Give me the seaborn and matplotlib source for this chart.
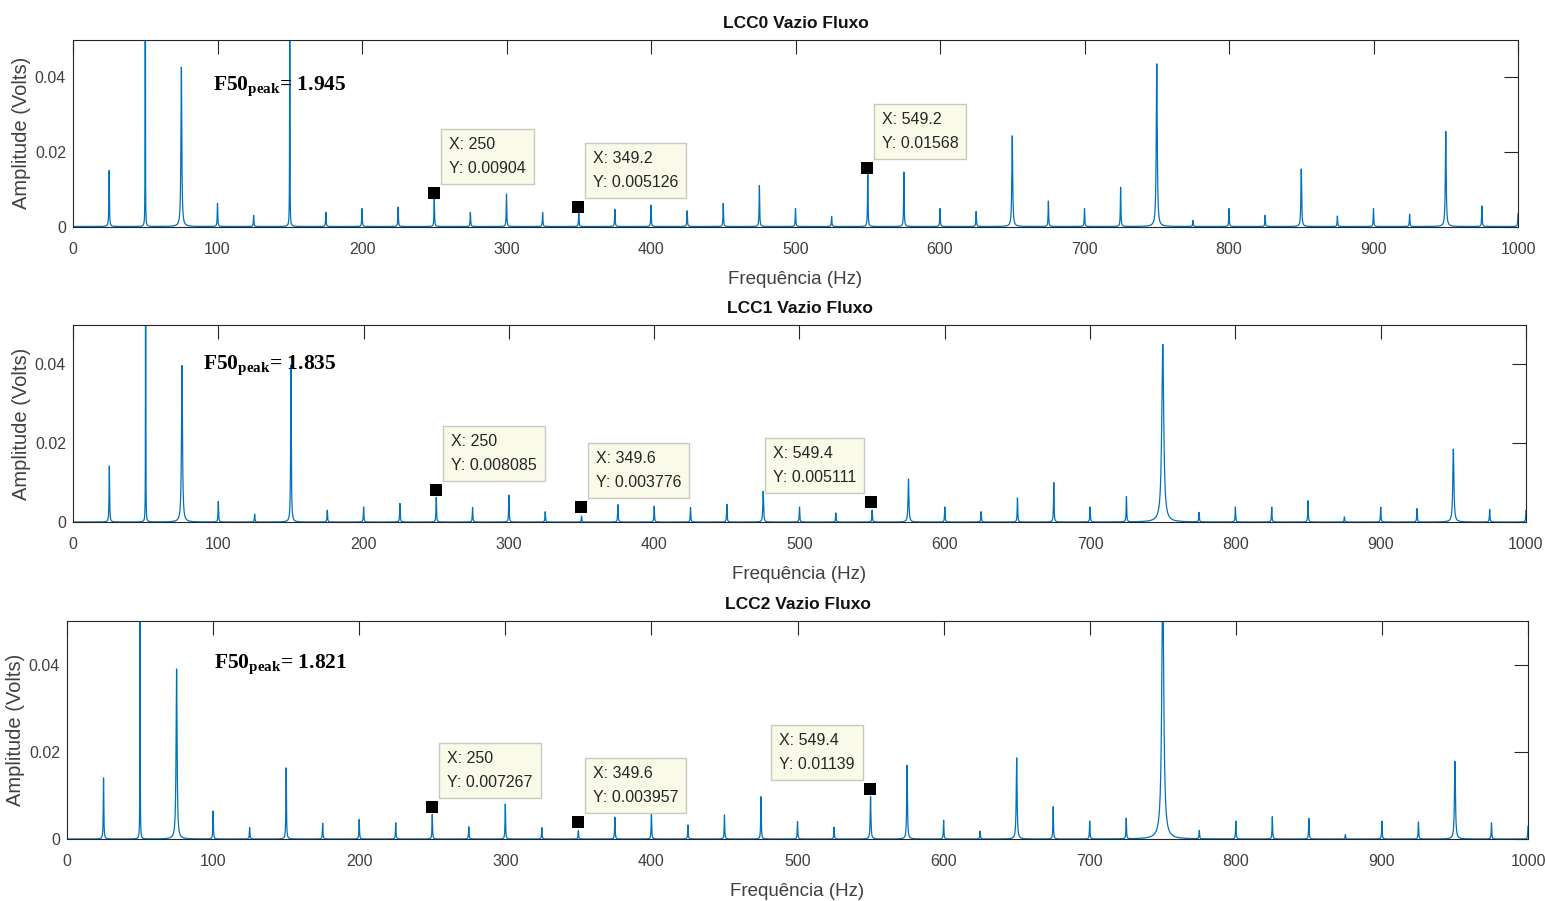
import numpy as np
import pandas as pd
import matplotlib
matplotlib.use("Agg")
import matplotlib.pyplot as plt
from matplotlib.ticker import FuncFormatter
import seaborn as sns

# ---------------- data ----------------
titles = ["LCC0 Vazio Fluxo", "LCC1 Vazio Fluxo", "LCC2 Vazio Fluxo"]
f50_peak = ["1.945", "1.835", "1.821"]

harmonic_freqs = [25, 50, 75, 100, 125, 150, 175, 200, 225, 250,
                  275, 300, 325, 350, 375, 400, 425, 450, 475, 500,
                  525, 550, 575, 600, 625, 650, 675, 700, 725, 750,
                  775, 800, 825, 850, 875, 900, 925, 950, 975, 1000]

amp_lcc0 = [0.0150, 1.945, 0.0427, 0.0062, 0.0030, 0.0650, 0.0038, 0.0048, 0.0052, 0.0075,
            0.0038, 0.0087, 0.0037, 0.0035, 0.0046, 0.0057, 0.0042, 0.0062, 0.0110, 0.0048,
            0.0027, 0.0140, 0.0146, 0.0048, 0.0040, 0.0243, 0.0068, 0.0048, 0.0105, 0.0436,
            0.0016, 0.0048, 0.0030, 0.0154, 0.0028, 0.0048, 0.0033, 0.0255, 0.0055, 0.0035]

amp_lcc1 = [0.0142, 1.835, 0.0397, 0.0052, 0.0020, 0.0398, 0.0030, 0.0038, 0.0047, 0.0062,
            0.0037, 0.0068, 0.0026, 0.0015, 0.0044, 0.0040, 0.0037, 0.0045, 0.0078, 0.0038,
            0.0023, 0.0030, 0.0109, 0.0038, 0.0026, 0.0061, 0.0100, 0.0038, 0.0064, 0.0451,
            0.0024, 0.0038, 0.0038, 0.0054, 0.0013, 0.0038, 0.0034, 0.0185, 0.0032, 0.0030]

amp_lcc2 = [0.0140, 1.821, 0.0390, 0.0064, 0.0026, 0.0163, 0.0036, 0.0045, 0.0037, 0.0056,
            0.0028, 0.0080, 0.0026, 0.0019, 0.0050, 0.0063, 0.0032, 0.0055, 0.0097, 0.0040,
            0.0027, 0.0097, 0.0169, 0.0043, 0.0018, 0.0186, 0.0074, 0.0041, 0.0047, 0.0600,
            0.0019, 0.0041, 0.0051, 0.0047, 0.0010, 0.0041, 0.0039, 0.0178, 0.0037, 0.0030]

# peak half-widths (Hz): default plus the peaks that show a wider base
default_width = 0.22
widths_lcc0 = {50: 0.02, 75: 0.35, 150: 0.12, 650: 0.35, 750: 0.4, 850: 0.3, 950: 0.35}
widths_lcc1 = {50: 0.02, 75: 0.4, 150: 0.25, 475: 0.3, 575: 0.35, 750: 0.8, 950: 0.45}
widths_lcc2 = {50: 0.02, 75: 0.4, 550: 0.3, 575: 0.3, 650: 0.35, 750: 0.8, 950: 0.4}

amplitudes = [amp_lcc0, amp_lcc1, amp_lcc2]
widths = [widths_lcc0, widths_lcc1, widths_lcc2]

# data tips (X, Y) per panel
tips_x = [[250, 349.2, 549.2], [250, 349.6, 549.4], [250, 349.6, 549.4]]
tips_y = [[0.00904, 0.005126, 0.01568], [0.008085, 0.003776, 0.005111], [0.007267, 0.003957, 0.01139]]

# ---------------- layout / style ----------------
tip_side = [["r", "r", "r"], ["r", "r", "l"], ["r", "r", "l"]]
axes_rects = [
    [0.04722, 0.74861, 0.93467, 0.20699],
    [0.04722, 0.42064, 0.93984, 0.21865],
    [0.04334, 0.06881, 0.94502, 0.24195],
]
f50_pos = [(97, 0.0366), (89.5, 0.0388), (100.6, 0.0392)]

sns.set_style("white")
plt.rcParams["font.family"] = ["Liberation Sans", "DejaVu Sans"]
plt.rcParams["mathtext.fontset"] = "custom"
plt.rcParams["mathtext.rm"] = "Liberation Serif"
plt.rcParams["mathtext.bf"] = "Liberation Serif:bold"
plt.rcParams["mathtext.it"] = "Liberation Serif:italic"

LINE_BLUE = "#0072BD"
DARK = "#262626"
TXT = "#404040"

fig = plt.figure(figsize=(15.46, 9.01), dpi=100)
freq = np.linspace(0, 1000, 20001)

for i in range(3):
    ax = fig.add_axes(axes_rects[i])
    spec = np.zeros_like(freq)
    for f0, a in zip(harmonic_freqs, amplitudes[i]):
        g = widths[i].get(f0, default_width)
        spec += a * g * g / ((freq - f0) ** 2 + g * g)
    df = pd.DataFrame({"freq": freq, "amp": spec})
    sns.lineplot(data=df, x="freq", y="amp", ax=ax, color=LINE_BLUE,
                 linewidth=0.9, estimator=None, errorbar=None, zorder=2)

    ax.set_xlim(0, 1000)
    ax.set_ylim(0, 0.05)
    ax.set_xticks(range(0, 1001, 100))
    ax.set_yticks([0, 0.02, 0.04])
    ax.yaxis.set_major_formatter(FuncFormatter(lambda v, p: f"{v:g}"))
    ax.tick_params(direction="in", length=10, width=0.8, top=True, right=True,
                   color=DARK, labelcolor=TXT, labelsize=11.5)
    ax.tick_params(axis="x", pad=11)
    ax.tick_params(axis="y", pad=5)
    for s in ax.spines.values():
        s.set_color(DARK)
        s.set_linewidth(0.8)

    ax.set_title(titles[i], fontsize=12.5, fontweight="bold", color="#111111", pad=8.5)
    ax.set_xlabel("Frequência (Hz)", fontsize=13.5, color=TXT, labelpad=10)
    ax.set_ylabel("Amplitude (Volts)", fontsize=14.5, color=TXT, labelpad=3)

    # F50 annotation
    ax.text(f50_pos[i][0], f50_pos[i][1],
            r"$\mathbf{F50_{peak}}$" + "= " + f50_peak[i],
            family="Liberation Serif", fontweight="bold", fontsize=15.5,
            color="black", va="baseline", ha="left", zorder=5)

    # data tips
    sns.scatterplot(x=tips_x[i], y=tips_y[i], ax=ax, marker="s", s=70,
                    color="black", edgecolor="black", linewidth=0, zorder=6, legend=False)
    for x, y, side in zip(tips_x[i], tips_y[i], tip_side[i]):
        dx = 15 if side == "r" else -15
        ax.annotate(f"X: {x:g}\nY: {y:g}", xy=(x, y), xytext=(dx, 17),
                    textcoords="offset pixels", ha="left" if side == "r" else "right",
                    multialignment="left",
                    va="bottom", fontsize=11.5, color=DARK, linespacing=1.75,
                    bbox=dict(boxstyle="square,pad=0.5", fc="#FAFAE8", ec="#C9C9C0", lw=1),
                    zorder=7, annotation_clip=False)

fig.savefig("out.png", dpi=100)
